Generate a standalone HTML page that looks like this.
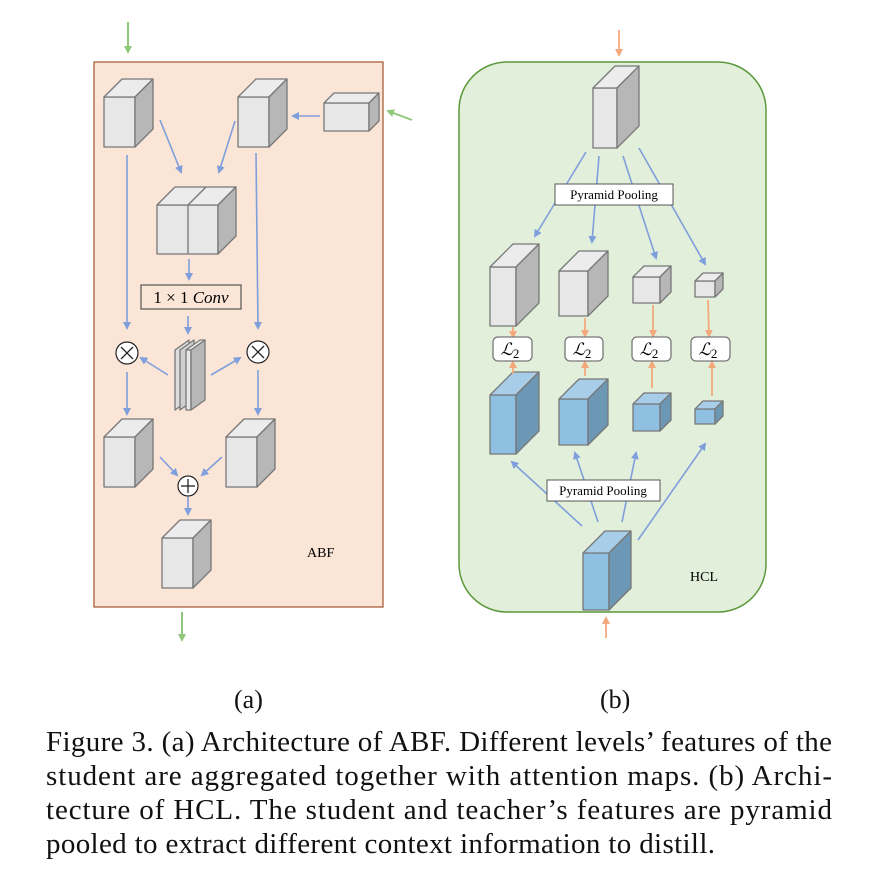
<!DOCTYPE html>
<html><head><meta charset="utf-8"><style>body{margin:0;background:#fff}svg{display:block}</style></head><body>
<svg width="870" height="881" viewBox="0 0 870 881" xmlns="http://www.w3.org/2000/svg" font-family="Liberation Serif, serif">
<defs>
<marker id="ab" markerWidth="8" markerHeight="8" refX="6" refY="4" orient="auto" markerUnits="userSpaceOnUse"><path d="M0,0 L8,4 L0,8 z" fill="#7f9fdc"/></marker>
<marker id="ag" markerWidth="8" markerHeight="8" refX="6" refY="4" orient="auto" markerUnits="userSpaceOnUse"><path d="M0,0 L8,4 L0,8 z" fill="#8fc87a"/></marker>
<marker id="ao" markerWidth="8" markerHeight="8" refX="6" refY="4" orient="auto" markerUnits="userSpaceOnUse"><path d="M0,0 L8,4 L0,8 z" fill="#f4a97c"/></marker>
</defs>
<rect x="94" y="62" width="289" height="545" fill="#fbe5d6" stroke="#a9603a" stroke-width="1.3"/>
<rect x="459" y="62" width="307" height="550" rx="48" fill="#e2efda" stroke="#5b9a3b" stroke-width="1.5"/>
<g stroke="#777" stroke-width="1.3" stroke-linejoin="round">
<rect x="104" y="97" width="31" height="50" fill="#e7e7e7"/><polygon points="104,97 122,79 153,79 135,97" fill="#ececec"/><polygon points="135,97 153,79 153,129 135,147" fill="#b7b7b7"/>
<rect x="238" y="97" width="31" height="50" fill="#e7e7e7"/><polygon points="238,97 256,79 287,79 269,97" fill="#ececec"/><polygon points="269,97 287,79 287,129 269,147" fill="#b7b7b7"/>
<rect x="324" y="103" width="45" height="28" fill="#e7e7e7"/><polygon points="324,103 334,93 379,93 369,103" fill="#ececec"/><polygon points="369,103 379,93 379,121 369,131" fill="#b7b7b7"/>
<rect x="157" y="205" width="61" height="49" fill="#e7e7e7"/><line x1="188" y1="205" x2="188" y2="254"/><polygon points="157,205 175,187 236,187 218,205" fill="#ececec"/><line x1="188" y1="205" x2="206" y2="187"/><polygon points="218,205 236,187 236,236 218,254" fill="#b7b7b7"/>
<rect x="104" y="437" width="31" height="50" fill="#e7e7e7"/><polygon points="104,437 122,419 153,419 135,437" fill="#ececec"/><polygon points="135,437 153,419 153,469 135,487" fill="#b7b7b7"/>
<rect x="226" y="437" width="31" height="50" fill="#e7e7e7"/><polygon points="226,437 244,419 275,419 257,437" fill="#ececec"/><polygon points="257,437 275,419 275,469 257,487" fill="#b7b7b7"/>
<rect x="162" y="538" width="31" height="50" fill="#e7e7e7"/><polygon points="162,538 180,520 211,520 193,538" fill="#ececec"/><polygon points="193,538 211,520 211,570 193,588" fill="#b7b7b7"/>
<polygon points="175,350 189,340 189,400 175,410" fill="#ddd"/>
<polygon points="180,350 194,340 194,400 180,410" fill="#d0d0d0"/>
<polygon points="186,350 200,340 205,340 191,350" fill="#ececec"/>
<polygon points="186,350 191,350 191,410 186,410" fill="#e7e7e7"/>
<polygon points="191,350 205,340 205,400 191,410" fill="#b7b7b7"/>
<rect x="593" y="88" width="24" height="60" fill="#e7e7e7"/><polygon points="593,88 615,66 639,66 617,88" fill="#ececec"/><polygon points="617,88 639,66 639,126 617,148" fill="#b7b7b7"/>
<rect x="490" y="267" width="26" height="59" fill="#e7e7e7"/><polygon points="490,267 513,244 539,244 516,267" fill="#ececec"/><polygon points="516,267 539,244 539,303 516,326" fill="#b7b7b7"/>
<rect x="559" y="271" width="29" height="45" fill="#e7e7e7"/><polygon points="559,271 579,251 608,251 588,271" fill="#ececec"/><polygon points="588,271 608,251 608,296 588,316" fill="#b7b7b7"/>
<rect x="633" y="277" width="27" height="26" fill="#e7e7e7"/><polygon points="633,277 644,266 671,266 660,277" fill="#ececec"/><polygon points="660,277 671,266 671,292 660,303" fill="#b7b7b7"/>
<rect x="695" y="281" width="20" height="16" fill="#e7e7e7"/><polygon points="695,281 703,273 723,273 715,281" fill="#ececec"/><polygon points="715,281 723,273 723,289 715,297" fill="#b7b7b7"/>
<rect x="490" y="395" width="26" height="59" fill="#8fc0e2"/><polygon points="490,395 513,372 539,372 516,395" fill="#a7cde8"/><polygon points="516,395 539,372 539,431 516,454" fill="#6c98b5"/>
<rect x="559" y="399" width="29" height="46" fill="#8fc0e2"/><polygon points="559,399 579,379 608,379 588,399" fill="#a7cde8"/><polygon points="588,399 608,379 608,425 588,445" fill="#6c98b5"/>
<rect x="633" y="404" width="27" height="27" fill="#8fc0e2"/><polygon points="633,404 644,393 671,393 660,404" fill="#a7cde8"/><polygon points="660,404 671,393 671,420 660,431" fill="#6c98b5"/>
<rect x="695" y="409" width="20" height="15" fill="#8fc0e2"/><polygon points="695,409 703,401 723,401 715,409" fill="#a7cde8"/><polygon points="715,409 723,401 723,416 715,424" fill="#6c98b5"/>
<rect x="583" y="553" width="26" height="57" fill="#8fc0e2"/><polygon points="583,553 605,531 631,531 609,553" fill="#a7cde8"/><polygon points="609,553 631,531 631,588 609,610" fill="#6c98b5"/>
</g>
<g stroke="#7f9fdc" stroke-width="1.6" fill="none" marker-end="url(#ab)">
<line x1="160" y1="120" x2="181" y2="172"/><line x1="235" y1="121" x2="219" y2="172"/>
<line x1="320" y1="116" x2="293" y2="116"/>
<line x1="127" y1="155" x2="127" y2="328"/><line x1="256" y1="153" x2="258" y2="328"/>
<line x1="189" y1="259" x2="189" y2="279"/><line x1="188" y1="316" x2="188" y2="333"/>
<line x1="168" y1="375" x2="141" y2="358"/><line x1="211" y1="375" x2="240" y2="358"/>
<line x1="127" y1="372" x2="127" y2="414"/><line x1="258" y1="370" x2="258" y2="414"/>
<line x1="160" y1="457" x2="177" y2="475"/><line x1="222" y1="457" x2="202" y2="475"/>
<line x1="188" y1="497" x2="188" y2="514"/>
<line x1="586" y1="152" x2="535" y2="236"/><line x1="599" y1="156" x2="592" y2="242"/><line x1="623" y1="156" x2="656" y2="258"/><line x1="639" y1="148" x2="705" y2="264"/>
<line x1="582" y1="526" x2="512" y2="462"/><line x1="598" y1="522" x2="575" y2="453"/><line x1="622" y1="522" x2="636" y2="453"/><line x1="638" y1="540" x2="705" y2="444"/>
</g>
<g stroke="#8fc87a" stroke-width="2" marker-end="url(#ag)">
<line x1="128" y1="22" x2="128" y2="52"/><line x1="182" y1="612" x2="182" y2="640"/><line x1="412" y1="120" x2="388" y2="111"/>
</g>
<g stroke="#f4a97c" stroke-width="1.8" marker-end="url(#ao)">
<line x1="619" y1="30" x2="619" y2="55"/><line x1="606" y1="638" x2="606" y2="618"/>
<line x1="513" y1="327" x2="513" y2="337"/><line x1="513" y1="374" x2="513" y2="362"/>
<line x1="585" y1="318" x2="585" y2="336"/><line x1="585" y1="376" x2="585" y2="362"/>
<line x1="653" y1="305" x2="653" y2="336"/><line x1="652" y1="388" x2="652" y2="362"/>
<line x1="708" y1="300" x2="709" y2="336"/><line x1="712" y1="396" x2="712" y2="362"/>
</g>
<g fill="#fff" stroke="#777" stroke-width="1.3">
<rect x="493" y="337" width="39" height="24" rx="5"/><rect x="565" y="337" width="38" height="24" rx="5"/><rect x="632" y="337" width="39" height="24" rx="5"/><rect x="691" y="337" width="39" height="24" rx="5"/>
</g>
<g font-size="17" font-style="italic" text-anchor="middle">
<text x="510" y="355">ℒ<tspan font-style="normal" font-size="13" dy="3">2</tspan></text>
<text x="582" y="355">ℒ<tspan font-style="normal" font-size="13" dy="3">2</tspan></text>
<text x="649" y="355">ℒ<tspan font-style="normal" font-size="13" dy="3">2</tspan></text>
<text x="708" y="355">ℒ<tspan font-style="normal" font-size="13" dy="3">2</tspan></text>
</g>
<rect x="141" y="285" width="100" height="24" fill="#fbe5d6" stroke="#555" stroke-width="1.2"/>
<text x="191" y="303" font-size="17" text-anchor="middle">1 × 1 <tspan font-style="italic">Conv</tspan></text>
<g fill="#fff" stroke="#222" stroke-width="1.2">
<circle cx="127" cy="353" r="11"/><circle cx="258" cy="352" r="11"/><circle cx="188" cy="486" r="10"/>
</g>
<g stroke="#222" stroke-width="1.3">
<line x1="121" y1="347" x2="133" y2="359"/><line x1="133" y1="347" x2="121" y2="359"/>
<line x1="252" y1="346" x2="264" y2="358"/><line x1="264" y1="346" x2="252" y2="358"/>
<line x1="181" y1="486" x2="195" y2="486"/><line x1="188" y1="479" x2="188" y2="493"/>
</g>
<rect x="555" y="184" width="118" height="21" fill="#fff" stroke="#555"/>
<text x="614" y="199" font-size="13" text-anchor="middle">Pyramid Pooling</text>
<rect x="547" y="480" width="113" height="21" fill="#fff" stroke="#555"/>
<text x="603" y="495" font-size="13" text-anchor="middle">Pyramid Pooling</text>
<text x="307" y="557" font-size="14">ABF</text>
<text x="690" y="581" font-size="14">HCL</text>
<g font-size="29" fill="#111">
<text x="234" y="708" font-size="26">(a)</text><text x="600" y="708" font-size="26">(b)</text>
<text x="46" y="751" textLength="786" lengthAdjust="spacing">Figure 3. (a) Architecture of ABF. Different levels’ features of the</text>
<text x="46" y="785" textLength="786" lengthAdjust="spacing">student are aggregated together with attention maps.  (b) Archi-</text>
<text x="46" y="819" textLength="786" lengthAdjust="spacing">tecture of HCL. The student and teacher’s features are pyramid</text>
<text x="46" y="853" textLength="669" lengthAdjust="spacing">pooled to extract different context information to distill.</text>
</g>
</svg>
</body></html>
